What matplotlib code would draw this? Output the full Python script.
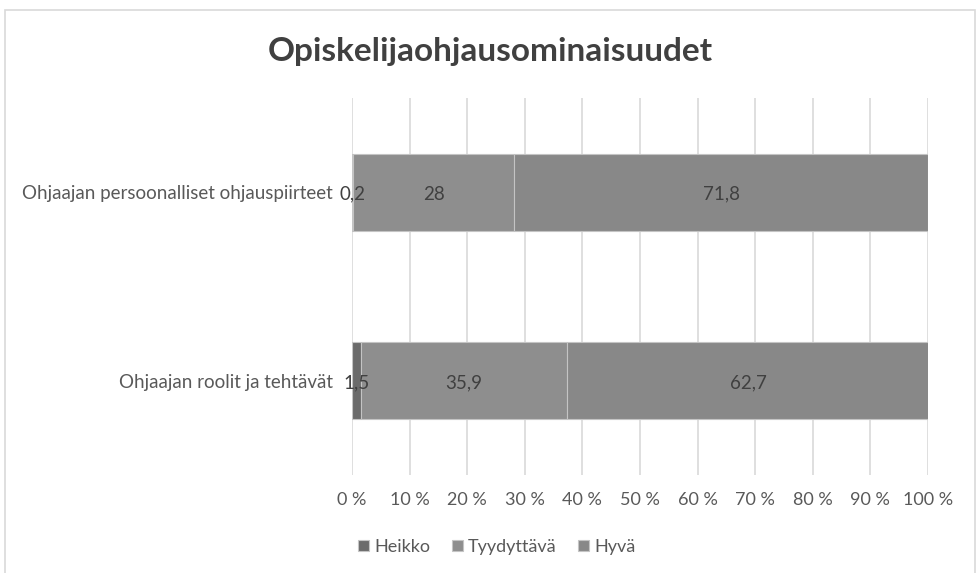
import matplotlib.pyplot as plt
from matplotlib.patches import Rectangle

categories = ["Ohjaajan roolit ja tehtävät", "Ohjaajan persoonalliset ohjauspiirteet"]
series = ["Heikko", "Tyydyttävä", "Hyvä"]
heikko = [1.5, 0.2]
tyydyttava = [35.9, 28]
hyva = [62.7, 71.8]
labels = [["1,5", "35,9", "62,7"], ["0,2", "28", "71,8"]]
ticks = [0, 10, 20, 30, 40, 50, 60, 70, 80, 90, 100]

colors = ["#6b6b6b", "#8e8e8e", "#888888"]

plt.rcParams["font.family"] = ["Lato", "DejaVu Sans"]

fig = plt.figure(figsize=(9.78, 5.73), dpi=100)
fig.patches.append(Rectangle((5 / 978, -0.01), 970 / 978, 1 - 10 / 573 + 0.01,
                             transform=fig.transFigure, fill=False,
                             edgecolor="#d9d9d9", linewidth=1.2))

ax = fig.add_axes([352 / 978, 98 / 573, 576 / 978, 377 / 573])

y = range(len(categories))
left = [0, 0]
for name, vals, col in zip(series, [heikko, tyydyttava, hyva], colors):
    ax.barh(y, vals, left=left, height=0.41, color=col, edgecolor="#c4c4c4",
            linewidth=0.8, label=name, zorder=3)
    left = [l + v for l, v in zip(left, vals)]

# value labels centred on each segment
for i in y:
    start = 0
    for j, vals in enumerate([heikko, tyydyttava, hyva]):
        ax.text(start + vals[i] / 2, i - 0.01, labels[i][j], ha="center", va="center",
                fontsize=13.5, color="#404040", zorder=4)
        start += vals[i]

ax.set_xlim(0, 100)
ax.set_ylim(-0.5, 1.5)
ax.set_xticks(ticks)
ax.set_xticklabels([f"{t} %" for t in ticks], fontsize=13, color="#595959")
ax.set_yticks(list(y))
ax.set_yticklabels(categories, fontsize=13.5, color="#595959")
ax.tick_params(length=0, pad=12)
ax.tick_params(axis="y", pad=14)
ax.grid(axis="x", color="#d9d9d9", linewidth=1.2, zorder=0)
for s in ax.spines.values():
    s.set_visible(False)

fig.text(490 / 978, 1 - 52 / 573, "Opiskelijaohjausominaisuudet", ha="center",
         va="center", fontsize=24, fontweight="bold", color="#404040")

ax.legend(loc="center", bbox_to_anchor=(497 / 978, 1 - 547 / 573),
          bbox_transform=fig.transFigure, ncol=3, frameon=False, fontsize=13,
          handlelength=0.6, handleheight=0.6, handletextpad=0.3,
          columnspacing=1.2, labelcolor="#595959")

fig.savefig("out.png", dpi=100)
